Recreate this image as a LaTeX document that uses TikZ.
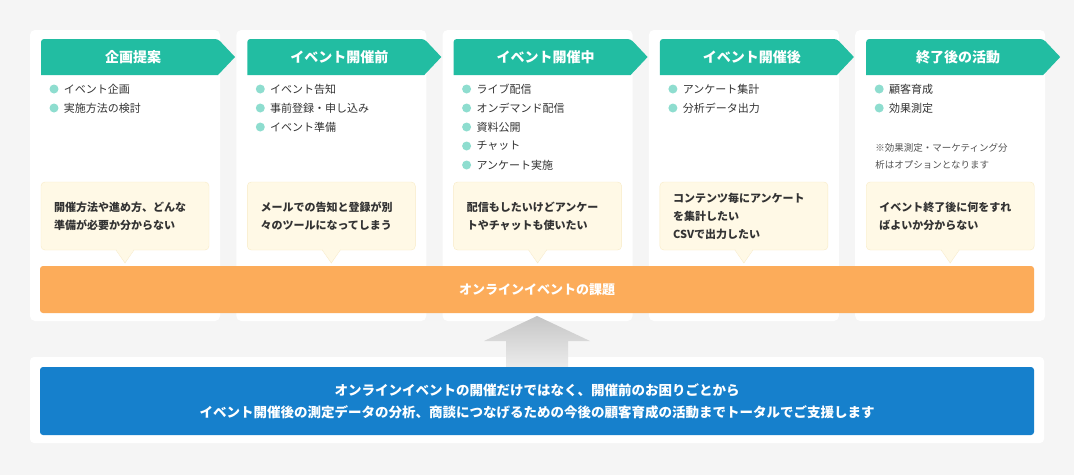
\documentclass[tikz,border=0pt]{standalone}
\usepackage{fontspec}
\setmainfont{Noto Sans CJK JP}
\usetikzlibrary{positioning,shadings}
\definecolor{bgc}{HTML}{F5F5F5}
\definecolor{teal}{HTML}{22BDA2}
\definecolor{dotc}{HTML}{8EDDCF}
\definecolor{notefill}{HTML}{FFF9E6}
\definecolor{notedraw}{HTML}{F8EBC6}
\definecolor{orangec}{HTML}{FCAC5A}
\definecolor{bluec}{HTML}{1680CC}
\definecolor{txtc}{HTML}{333333}
\tikzset{
    card/.style={fill=white, rounded corners=5pt},
    headtext/.style={text=white, font=\bfseries\fontsize{14}{16}\selectfont, anchor=center},
    item/.style={anchor=west, text=txtc, font=\fontsize{11}{13}\selectfont, inner sep=0pt},
    dot/.style={circle, fill=dotc, minimum size=9pt, inner sep=0pt},
    notetext/.style={anchor=west, text=txtc, font=\bfseries\fontsize{11}{18}\selectfont, align=left, inner sep=0pt},
}
\begin{document}
\begin{tikzpicture}[x=1pt, y=-1pt]
    \fill[bgc] (0,0) rectangle (1074,475);
    \useasboundingbox (0,0) rectangle (1074,475);

    % columns
    \foreach \i/\title in {0/企画提案, 1/イベント開催前, 2/イベント開催中, 3/イベント開催後, 4/終了後の活動} {
        \pgfmathsetmacro{\xa}{30+206.3*\i}
        \fill[card] (\xa,30) rectangle ++(190,291);
        \fill[teal, rounded corners=3pt] (\xa+11,75) -- (\xa+11,39) -- (\xa+188,39)
            [sharp corners] -- (\xa+205,57) -- (\xa+188,75) -- cycle;
        \node[headtext] (head\i) at (\xa+103,57) {\title};
        \draw[notedraw, fill=notefill, rounded corners=4pt] (\xa+11,182) rectangle (\xa+179,250);
        \fill[notefill] (\xa+86,249) -- (\xa+95,263) -- (\xa+104,249) -- cycle;
        \draw[notedraw] (\xa+86,250) -- (\xa+95,263) -- (\xa+104,250);
        \coordinate (note\i) at (\xa+24,216);
        \coordinate (list\i) at (\xa+24,89);
    }

    % bullet items
    \foreach \col/\n/\txt in {0/0/イベント企画, 0/1/実施方法の検討,
        1/0/イベント告知, 1/1/事前登録・申し込み, 1/2/イベント準備,
        2/0/ライブ配信, 2/1/オンデマンド配信, 2/2/資料公開, 2/3/チャット, 2/4/アンケート実施,
        3/0/アンケート集計, 3/1/分析データ出力,
        4/0/顧客育成, 4/1/効果測定} {
        \node[dot] (dot\col\n) at ([yshift=-19*\n pt]list\col) {};
        \node[item, right=5pt of dot\col\n] (item\col\n) {\txt};
    }
    \node[anchor=north west, text=txtc!85, font=\fontsize{9.5}{17}\selectfont, align=left, inner sep=0pt]
        (remark) at ([xshift=-4pt,yshift=-35pt]dot41.center) {※効果測定・マーケティング分\\析はオプションとなります};

    % issues
    \node[notetext] (issue0) at (note0) {開催方法や進め方、どんな\\準備が必要か分からない};
    \node[notetext] (issue1) at (note1) {メールでの告知と登録が別\\々のツールになってしまう};
    \node[notetext] (issue2) at (note2) {配信もしたいけどアンケー\\トやチャットも使いたい};
    \node[notetext] (issue3) at (note3) {コンテンツ毎にアンケート\\を集計したい\\CSVで出力したい};
    \node[notetext] (issue4) at (note4) {イベント終了後に何をすれ\\ばよいか分からない};

    % challenge bar
    \fill[orangec, rounded corners=3pt] (40,266) rectangle (1034,313);
    \node[text=white, font=\bfseries\fontsize{13}{15}\selectfont] (issues) at (537,290) {オンラインイベントの課題};

    % support panel
    \fill[white, rounded corners=4pt] (30,357) rectangle (1044,443);
    \shade[top color=gray!45, bottom color=gray!15] (537,316) -- (590,341) -- (568,341) -- (568,367)
        -- (506,367) -- (506,341) -- (484,341) -- cycle;
    \fill[bluec, rounded corners=3pt] (40,367) rectangle (1034,435);
    \node[text=white, font=\bfseries\fontsize{13.5}{22}\selectfont, align=center] (support) at (537,401)
        {オンラインイベントの開催だけではなく、開催前のお困りごとから\\イベント開催後の測定データの分析、商談につなげるための今後の顧客育成の活動までトータルでご支援します};
\end{tikzpicture}
\end{document}
